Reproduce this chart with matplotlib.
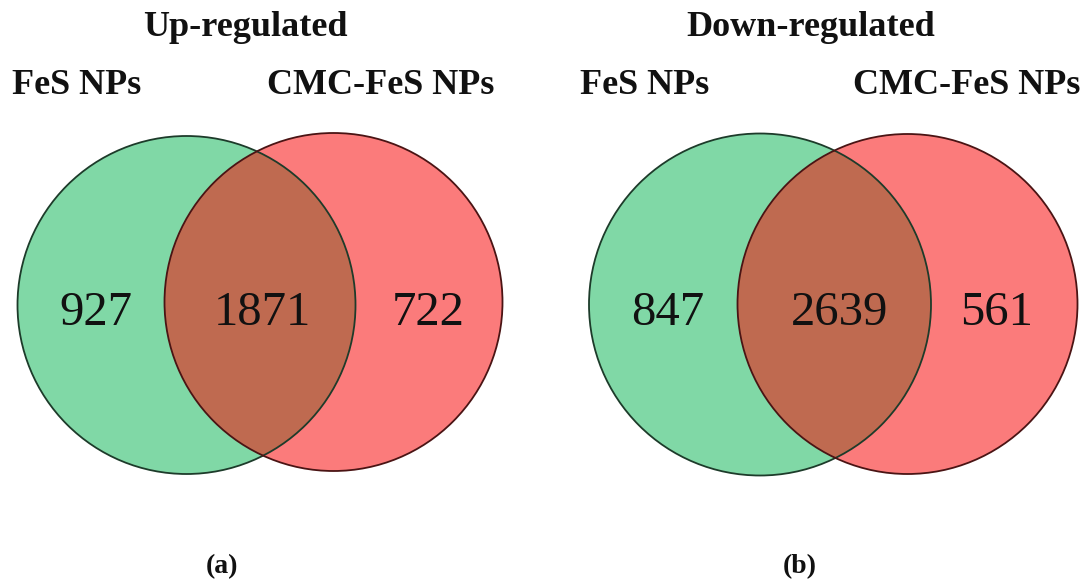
import matplotlib
matplotlib.use("Agg")
import matplotlib.pyplot as plt
from matplotlib.patches import Circle

# Set sizes for each comparison
panel_titles = ["Up-regulated", "Down-regulated"]
panel_tags = ["(a)", "(b)"]
set_names = ["FeS NPs", "CMC-FeS NPs"]
only_fes = [927, 847]
shared = [1871, 2639]
only_cmc = [722, 561]

# Layout (pixel space of the figure)
green_circles = [((186.5, 305), 169), ((760, 304.5), 171)]
red_circles = [((333.5, 302), 169), ((907.5, 304), 170)]
count_x = [(95.5, 262, 428.5), (667.5, 839.5, 996.5)]
title_x = [245, 811]
name_left_x = [12, 580]
name_right_x = [494, 1080]
tag_x = [222, 800]

GREEN = "#80D8A6"
RED = "#FB7B7B"
OVERLAP = "#BF6A50"
INK = "#111111"

plt.rcParams["font.family"] = ["Liberation Serif", "DejaVu Serif"]

fig = plt.figure(figsize=(10.89, 5.81), dpi=100)
ax = fig.add_axes([0, 0, 1, 1])
ax.set_xlim(0, 1089)
ax.set_ylim(581, 0)
ax.set_aspect("equal")
ax.axis("off")

for i in range(2):
    (gc, gr), (rc, rr) = green_circles[i], red_circles[i]
    g = Circle(gc, gr, facecolor=GREEN, edgecolor="none", zorder=1)
    r = Circle(rc, rr, facecolor=RED, edgecolor="none", zorder=1)
    ax.add_patch(g)
    ax.add_patch(r)
    lens = Circle(rc, rr, facecolor=OVERLAP, edgecolor="none", zorder=2)
    ax.add_patch(lens)
    lens.set_clip_path(g)
    ax.add_patch(Circle(gc, gr, facecolor="none", edgecolor="#1d3b2a", lw=1.3, zorder=3))
    ax.add_patch(Circle(rc, rr, facecolor="none", edgecolor="#4a1414", lw=1.3, zorder=3))

    # region counts
    for x, v in zip(count_x[i], (only_fes[i], shared[i], only_cmc[i])):
        ax.text(x, 308, str(v), fontsize=35, ha="center", va="center_baseline",
                color=INK, zorder=4)

    ax.text(title_x[i], 24, panel_titles[i], fontsize=26, fontweight="bold",
            ha="center", va="center_baseline", color=INK)
    ax.text(name_left_x[i], 82, set_names[0], fontsize=26, fontweight="bold",
            ha="left", va="center_baseline", color=INK)
    ax.text(name_right_x[i], 82, set_names[1], fontsize=26, fontweight="bold",
            ha="right", va="center_baseline", color=INK)
    ax.text(tag_x[i], 564, panel_tags[i], fontsize=20, fontweight="bold",
            ha="center", va="center_baseline", color=INK)

fig.savefig("out.png", dpi=100)
